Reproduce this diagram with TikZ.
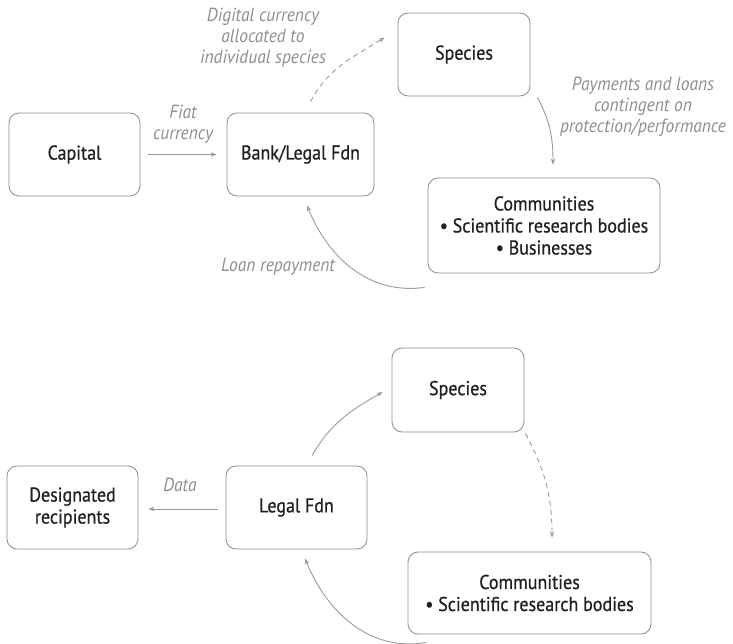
\documentclass[tikz,border=0pt]{standalone}
\usepackage{fontspec}
\setmainfont{PT Sans}[FakeStretch=0.92]
\newfontfamily\boxfont{PT Sans}[FakeStretch=0.9,FakeBold=0.7]
\usetikzlibrary{arrows.meta}
\definecolor{boxline}{HTML}{8C8C8C}
\definecolor{flowgray}{HTML}{9A9A9A}
\definecolor{notegray}{HTML}{8E8E8E}
\definecolor{ink}{HTML}{231F20}

\begin{document}
\begin{tikzpicture}[x=1pt,y=1pt,line width=0.8pt,
  >={Stealth[length=6pt,width=4.5pt]},
  box/.style={draw=boxline,rounded corners=10pt,align=center,text=ink,
    font=\boxfont\fontsize{20}{22}\selectfont,inner sep=0pt},
  flow/.style={draw=flowgray,line width=0.9pt},
  note/.style={text=notegray,align=center,font=\fontsize{19}{21}\selectfont\itshape}]
\useasboundingbox (0,0) rectangle (733,644);

% funding loop
\node[box,minimum width=131,minimum height=83] (capital) at (74.5,489.5) {Capital};
\node[box,minimum width=147,minimum height=83] (bank) at (300.5,489.5) {Bank/Legal Fdn};
\node[box,minimum width=132,minimum height=83] (species) at (464,589.5) {Species};
\node[box,minimum width=232,minimum height=95] (comm) at (544,418.5)
  {Communities\\• Scientific research bodies\\• Businesses};

\draw[flow,->,shorten <=8pt,shorten >=10pt] (capital) -- (bank);
\draw[flow,->,dashed,dash pattern=on 5pt off 4pt]
  ([shift={(10,11)}]bank.north) to[out=62,in=212] ([shift={(-13,17)}]species.west);
\draw[flow,->] ([shift={(7,-1)}]species.south east) to[out=-62,in=90] ([shift={(9,13)}]comm.north);
\draw[flow,->] ([shift={(-3,-14)}]comm.south west) to[out=188,in=-68] ([shift={(6.5,-9)}]bank.south);

\node[note] (fiat) at (183,520) {Fiat\\currency};
\node[note] (digital) at (263,606) {Digital currency\\allocated to\\individual species};
\node[note] (payments) at (643,537) {Payments and loans\\contingent on\\protection/performance};
\node[note] (repay) at (278,377) {Loan repayment};

% data loop
\node[box,minimum width=131,minimum height=83] (recip) at (72.5,136.5) {Designated\\recipients};
\node[box,minimum width=141,minimum height=83] (legal) at (296.5,136.5) {Legal Fdn};
\node[box,minimum width=132,minimum height=84] (species2) at (458,254) {Species};
\node[box,minimum width=243,minimum height=82] (comm2) at (529.5,51)
  {Communities\\• Scientific research bodies};

\draw[flow,->,shorten <=8pt,shorten >=10pt] ([yshift=-1.5]legal.west) -- ([yshift=-1.5]recip.east);
\draw[flow,->] ([shift={(15.5,10)}]legal.north) to[out=60,in=210] ([shift={(-9,-2)}]species2.west);
\draw[flow,->,dashed,dash pattern=on 5pt off 4pt]
  ([shift={(1,-1)}]species2.south east) to[out=-62,in=90] ([shift={(22.5,14)}]comm2.north);
\draw[flow,->] ([shift={(19,-8)}]comm2.south west) to[out=190,in=-68] ([shift={(8.5,-9)}]legal.south);

\node[note] (data) at (180,159) {Data};
\end{tikzpicture}
\end{document}
